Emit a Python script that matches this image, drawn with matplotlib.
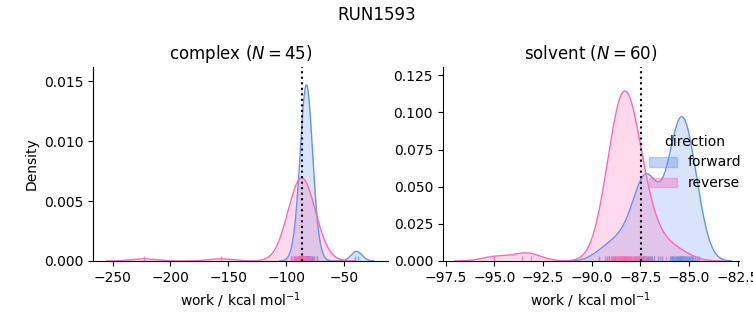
import numpy as np
import matplotlib.pyplot as plt
from matplotlib.patches import Patch

# work values (kcal/mol) per phase and direction
complex_forward = [-92.0, -89.5, -88.2, -87.3, -86.6, -86.0, -85.5, -85.1, -84.7, -84.4,
                   -84.1, -83.8, -83.5, -83.3, -83.0, -82.8, -82.6, -82.4, -82.2, -82.0,
                   -81.7, -81.5, -81.2, -81.0, -80.7, -80.4, -80.1, -79.8, -79.4, -79.0,
                   -78.5, -77.9, -77.0, -75.5, -73.0, -84.0, -83.2, -82.5, -82.3, -81.9,
                   -81.4, -80.9, -83.6, -40.5, -37.5]
complex_reverse = [-96.0, -94.5, -93.5, -92.7, -92.0, -91.4, -90.9, -90.4, -90.0, -89.6,
                   -89.2, -88.8, -88.5, -88.2, -87.9, -87.6, -87.3, -87.0, -86.7, -86.4,
                   -86.1, -85.8, -85.5, -85.2, -84.9, -84.5, -84.1, -83.7, -83.3, -82.8,
                   -82.3, -81.7, -81.0, -80.2, -79.2, -78.0, -76.0, -73.5, -89.0, -88.0,
                   -87.1, -86.0, -85.0, -223.0, -156.5]
solvent_forward = [-89.6, -89.1, -88.8, -88.5, -88.3, -88.05,
                   -87.8, -87.65, -87.55, -87.5, -87.45, -87.4, -87.35, -87.3, -87.25, -87.2,
                   -87.15, -87.1, -87.05, -87.0, -86.95, -86.9, -86.8, -86.6, -86.4,
                   -85.95, -86.0, -85.9, -85.85, -85.8, -85.75, -85.7, -85.65, -85.6, -85.55,
                   -85.5, -85.5, -85.45, -85.4, -85.4, -85.35, -85.3, -85.3, -85.25, -85.2,
                   -85.15, -85.1, -85.05, -85.0, -84.95, -84.9, -84.85, -84.8, -84.7, -84.6,
                   -84.5, -84.6, -85.6, -85.45, -85.35]
solvent_reverse = [-89.2, -89.3, -89.2, -89.1, -89.0, -88.95, -88.9, -88.85, -88.8, -88.75,
                   -88.7, -88.65, -88.6, -88.55, -88.5, -88.5, -88.45, -88.4, -88.4, -88.35,
                   -88.3, -88.3, -88.25, -88.2, -88.2, -88.15, -88.1, -88.05, -88.0, -87.95,
                   -87.9, -87.85, -87.8, -87.7, -87.6, -87.5, -87.4, -87.3, -87.2, -87.0,
                   -86.8, -86.5, -86.2, -85.8, -85.3, -88.6, -88.45, -88.35, -88.25, -88.15,
                   -88.05, -87.65, -87.55, -88.9, -88.0, -87.75, -88.5,
                   -95.0, -93.6, -93.1]

# free energy estimates (dotted lines)
complex_dg = -86.0
solvent_dg = -87.45

colors = {'forward': 'cornflowerblue', 'reverse': 'hotpink'}
n_total = len(complex_forward) + len(complex_reverse) + len(solvent_forward) + len(solvent_reverse)


def kde(values, n_norm):
    x = np.asarray(values, dtype=float)
    bw = x.std(ddof=1) * len(x) ** (-1 / 5)
    grid = np.linspace(x.min() - 3 * bw, x.max() + 3 * bw, 200)
    z = (grid[:, None] - x[None, :]) / bw
    dens = np.exp(-0.5 * z ** 2).sum(axis=1) / (bw * np.sqrt(2 * np.pi) * n_norm)
    return grid, dens


fig = plt.figure(figsize=(7.53, 3.25), dpi=100)
ax1 = fig.add_axes([0.1235, 0.197, 0.3915, 0.597])
ax2 = fig.add_axes([0.588, 0.197, 0.393, 0.597])

panels = [
    (ax1, 'complex', complex_forward, complex_reverse, complex_dg),
    (ax2, 'solvent', solvent_forward, solvent_reverse, solvent_dg),
]
for ax, name, fwd, rev, dg in panels:
    for direction, vals in [('forward', fwd), ('reverse', rev)]:
        c = colors[direction]
        g, d = kde(vals, n_total)
        ax.fill_between(g, d, color=c, alpha=0.25, linewidth=0)
        ax.plot(g, d, color=c, lw=1)
        ax.vlines(vals, 0, 0.025, transform=ax.get_xaxis_transform(), color=c, lw=1, alpha=0.8)
    ax.axvline(dg, color='black', ls=':', lw=1.5)
    ax.set_title(f'{name} ($N = {len(fwd)}$)')
    ax.set_xlabel('work / kcal mol$^{-1}$')
    ax.spines['top'].set_visible(False)
    ax.spines['right'].set_visible(False)

ax1.set_ylabel('Density')
ax1.set_xlim(-267, -12)
ax1.set_ylim(0, 0.0162)
ax1.set_xticks([-250, -200, -150, -100, -50])
ax1.set_yticks([0, 0.005, 0.010, 0.015])
ax2.set_xlim(-97.65, -82.45)
ax2.set_ylim(0, 0.1306)
ax2.set_xticks(np.arange(-97.5, -82.4, 2.5))
ax2.set_yticks([0, 0.025, 0.05, 0.075, 0.1, 0.125])

handles = [Patch(facecolor=colors[k], edgecolor=colors[k], alpha=0.4) for k in colors]
fig.legend(handles, list(colors), title='direction', frameon=False,
           loc='center left', bbox_to_anchor=(0.845, 0.5))
fig.suptitle('RUN1593')

fig.savefig('out.png', dpi=100)
